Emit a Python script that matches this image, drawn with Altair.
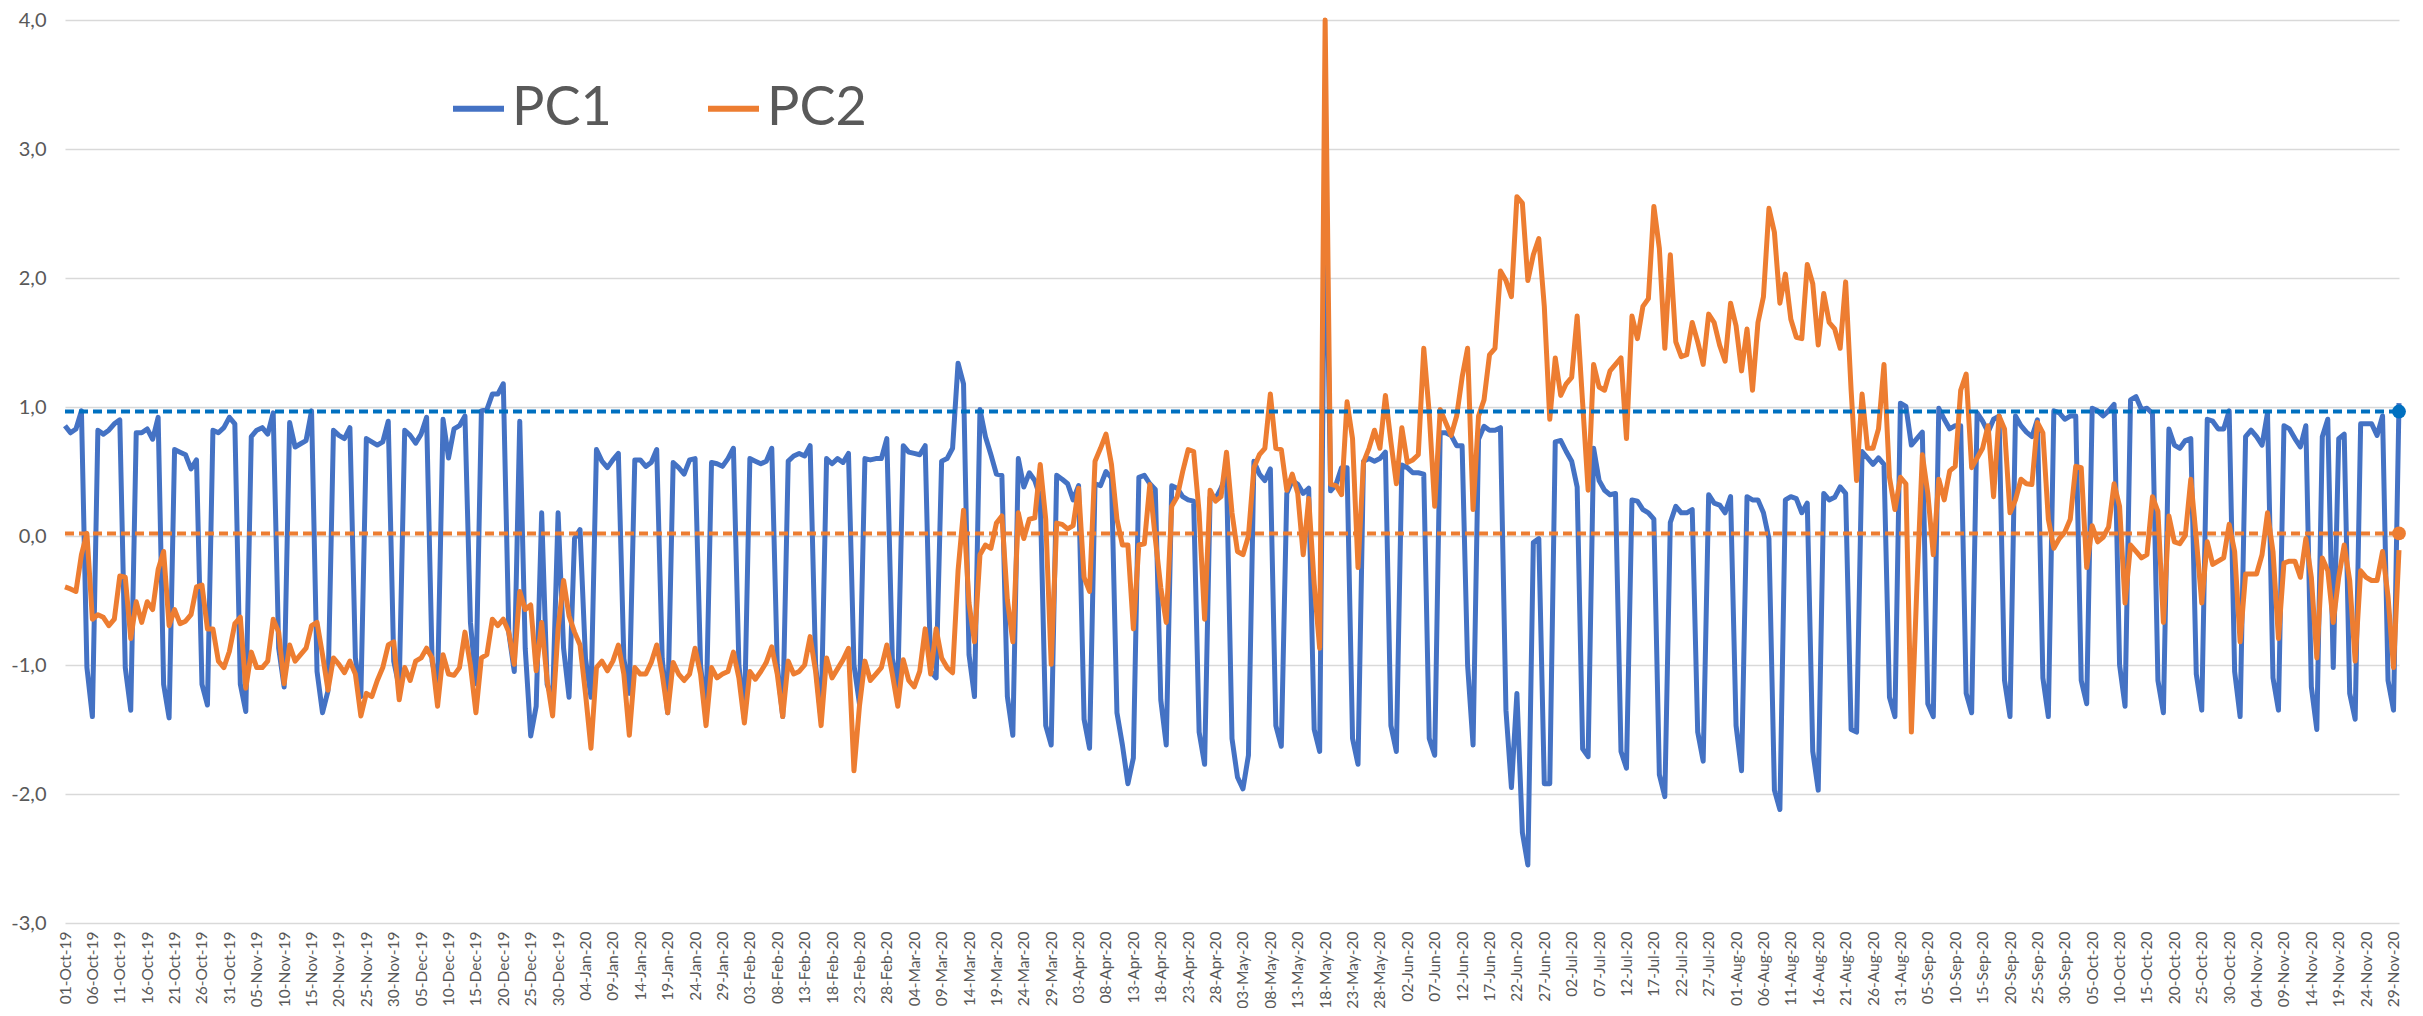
import json
import pandas as pd
import altair as alt

START = "2019-10-01"

PC1 = [
    0.855, 0.80, 0.83, 0.97, -1.02, -1.40, 0.82, 0.79, 0.82, 0.87,
    0.90, -1.02, -1.35, 0.80, 0.80, 0.83, 0.75, 0.92, -1.15, -1.41,
    0.67, 0.65, 0.63, 0.52, 0.59, -1.15, -1.31, 0.82, 0.80, 0.84,
    0.92, 0.87, -1.15, -1.36, 0.77, 0.82, 0.84, 0.79, 0.955, -0.87,
    -1.17, 0.88, 0.69, 0.715, 0.74, 0.97, -1.05, -1.37, -1.20, 0.82,
    0.78, 0.755, 0.84, -0.945, -1.245, 0.755, 0.73, 0.705, 0.73, 0.89,
    -0.97, -1.17, 0.82, 0.78, 0.72, 0.79, 0.92, -0.97, -1.17, 0.905,
    0.605, 0.83, 0.855, 0.93, -0.67, -1.145, 0.97, 0.98, 1.10, 1.10,
    1.18, -0.75, -1.05, 0.89, -0.87, -1.55, -1.32, 0.18, -1.15, -1.27,
    0.18, -0.87, -1.25, -0.02, 0.05, -0.95, -1.25, 0.67, 0.58, 0.53,
    0.59, 0.64, -0.95, -1.22, 0.59, 0.59, 0.54, 0.57, 0.67, -0.95,
    -1.37, 0.57, 0.53, 0.48, 0.59, 0.60, -1.0, -1.4, 0.57, 0.56,
    0.54, 0.60, 0.68, -1.0, -1.42, 0.60, 0.58, 0.56, 0.58, 0.68,
    -1.0, -1.40, 0.58, 0.62, 0.64, 0.62, 0.70, -1.0, -1.42, 0.60,
    0.56, 0.60, 0.57, 0.64, -1.0, -1.30, 0.60, 0.59, 0.60, 0.60,
    0.755, -0.95, -1.17, 0.70, 0.65, 0.64, 0.63, 0.70, -1.05, -1.10,
    0.58, 0.60, 0.68, 1.34, 1.18, -0.92, -1.245, 0.98, 0.77, 0.63,
    0.48, 0.47, -1.245, -1.545, 0.60, 0.38, 0.49, 0.43, 0.30, -1.47,
    -1.62, 0.47, 0.44, 0.405, 0.28, 0.39, -1.42, -1.645, 0.405, 0.39,
    0.50, 0.45, -1.37, -1.62, -1.92, -1.72, 0.455, 0.47, 0.405, 0.36,
    -1.27, -1.62, 0.39, 0.37, 0.305, 0.28, 0.27, -1.52, -1.77, 0.30,
    0.29, 0.37, 0.48, -1.57, -1.87, -1.96, -1.70, 0.58, 0.48, 0.43,
    0.52, -1.47, -1.63, 0.33, 0.43, 0.40, 0.33, 0.37, -1.50, -1.67,
    2.90, 0.35, 0.40, 0.53, 0.53, -1.57, -1.77, 0.58, 0.60, 0.58,
    0.60, 0.65, -1.47, -1.67, 0.55, 0.53, 0.49, 0.49, 0.48, -1.57,
    -1.70, 0.80, 0.80, 0.78, 0.70, 0.70, -1.0, -1.62, 0.75, 0.85,
    0.82, 0.82, 0.84, -1.35, -1.95, -1.22, -2.30, -2.55, -0.05, -0.02,
    -1.92, -1.92, 0.73, 0.74, 0.655, 0.58, 0.38, -1.65, -1.71, 0.68,
    0.43, 0.355, 0.32, 0.33, -1.67, -1.80, 0.28, 0.27, 0.205, 0.18,
    0.13, -1.85, -2.02, 0.105, 0.23, 0.18, 0.18, 0.205, -1.52, -1.745,
    0.32, 0.255, 0.24, 0.18, 0.305, -1.47, -1.82, 0.305, 0.28, 0.28,
    0.18, -0.02, -1.97, -2.12, 0.28, 0.305, 0.29, 0.18, 0.255, -1.67,
    -1.97, 0.33, 0.28, 0.30, 0.38, 0.33, -1.50, -1.52, 0.655, 0.605,
    0.555, 0.605, 0.555, -1.25, -1.40, 1.03, 1.005, 0.705, 0.755, 0.805,
    -1.30, -1.40, 0.99, 0.905, 0.83, 0.855, 0.855, -1.22, -1.37, 0.955,
    0.89, 0.805, 0.905, 0.93, -1.12, -1.40, 0.93, 0.855, 0.805, 0.77,
    0.90, -1.10, -1.40, 0.97, 0.955, 0.905, 0.93, 0.93, -1.12, -1.30,
    0.99, 0.97, 0.93, 0.97, 1.02, -1.00, -1.32, 1.055, 1.08, 0.98,
    0.99, 0.95, -1.12, -1.37, 0.83, 0.705, 0.68, 0.74, 0.755, -1.07,
    -1.35, 0.905, 0.89, 0.83, 0.83, 0.97, -1.05, -1.40, 0.77, 0.82,
    0.77, 0.705, 0.955, -1.10, -1.35, 0.855, 0.83, 0.755, 0.69, 0.855,
    -1.17, -1.50, 0.77, 0.905, -1.02, 0.755, 0.79, -1.22, -1.42, 0.87,
    0.87, 0.87, 0.78, 0.93, -1.12, -1.35, 1.03,
]

PC2 = [
    -0.395, -0.41, -0.43, -0.145, 0.02, -0.645, -0.61, -0.63, -0.695, -0.645,
    -0.31, -0.32, -0.795, -0.51, -0.67, -0.51, -0.57, -0.26, -0.12, -0.695,
    -0.57, -0.68, -0.66, -0.61, -0.395, -0.38, -0.72, -0.72, -0.97, -1.02,
    -0.895, -0.68, -0.63, -1.18, -0.90, -1.02, -1.02, -0.97, -0.645, -0.745,
    -1.145, -0.845, -0.97, -0.92, -0.87, -0.695, -0.67, -0.92, -1.195, -0.945,
    -0.995, -1.06, -0.97, -1.07, -1.395, -1.22, -1.245, -1.12, -1.02, -0.845,
    -0.82, -1.27, -1.02, -1.12, -0.97, -0.945, -0.87, -0.945, -1.32, -0.92,
    -1.07, -1.08, -1.02, -0.745, -1.0, -1.37, -0.945, -0.92, -0.645, -0.695,
    -0.645, -0.745, -0.995, -0.43, -0.57, -0.535, -1.045, -0.67, -1.12, -1.395,
    -0.72, -0.345, -0.62, -0.745, -0.845, -1.22, -1.645, -1.02, -0.97, -1.045,
    -0.97, -0.845, -1.07, -1.545, -1.02, -1.07, -1.07, -0.98, -0.845, -1.07,
    -1.37, -0.98, -1.07, -1.12, -1.07, -0.87, -1.07, -1.47, -1.02, -1.10,
    -1.07, -1.05, -0.90, -1.10, -1.45, -1.05, -1.11, -1.05, -0.98, -0.86,
    -1.07, -1.40, -0.97, -1.07, -1.05, -1.0, -0.78, -1.05, -1.47, -0.945,
    -1.10, -1.03, -0.96, -0.87, -1.82, -1.32, -0.97, -1.12, -1.07, -1.02,
    -0.845, -1.07, -1.32, -0.96, -1.12, -1.17, -1.05, -0.72, -1.07, -0.72,
    -0.945, -1.02, -1.06, -0.27, 0.20, -0.52, -0.82, -0.145, -0.07, -0.095,
    0.10, 0.155, -0.495, -0.82, 0.18, -0.02, 0.13, 0.14, 0.555, 0.13,
    -0.995, 0.10, 0.09, 0.055, 0.08, 0.37, -0.32, -0.43, 0.58, 0.68,
    0.79, 0.555, 0.13, -0.07, -0.07, -0.72, -0.07, -0.06, 0.40, -0.02,
    -0.40, -0.67, 0.23, 0.305, 0.50, 0.67, 0.655, 0.18, -0.645, 0.355,
    0.27, 0.305, 0.65, 0.18, -0.12, -0.145, 0.0, 0.53, 0.63, 0.68,
    1.10, 0.68, 0.67, 0.355, 0.48, 0.33, -0.145, 0.29, -0.37, -0.87,
    4.0, 0.40, 0.39, 0.32, 1.04, 0.755, -0.245, 0.57, 0.68, 0.82,
    0.68, 1.09, 0.73, 0.405, 0.84, 0.57, 0.59, 0.63, 1.455, 0.95,
    0.23, 0.98, 0.88, 0.78, 0.93, 1.23, 1.455, 0.205, 0.93, 1.055,
    1.405, 1.455, 2.055, 1.98, 1.855, 2.63, 2.58, 1.98, 2.18, 2.305,
    1.78, 0.905, 1.38, 1.09, 1.18, 1.23, 1.705, 1.03, 0.355, 1.33,
    1.155, 1.13, 1.28, 1.33, 1.38, 0.755, 1.705, 1.53, 1.78, 1.84,
    2.555, 2.23, 1.455, 2.18, 1.505, 1.39, 1.405, 1.655, 1.505, 1.33,
    1.72, 1.655, 1.48, 1.355, 1.805, 1.63, 1.28, 1.605, 1.13, 1.655,
    1.855, 2.54, 2.355, 1.805, 2.03, 1.68, 1.54, 1.53, 2.105, 1.955,
    1.48, 1.88, 1.655, 1.605, 1.455, 1.97, 1.13, 0.43, 1.10, 0.68,
    0.68, 0.83, 1.33, 0.455, 0.205, 0.455, 0.405, -1.52, -0.40, 0.63,
    0.33, -0.145, 0.44, 0.28, 0.505, 0.54, 1.13, 1.255, 0.53, 0.605,
    0.68, 0.855, 0.305, 0.93, 0.83, 0.18, 0.28, 0.44, 0.405, 0.40,
    0.88, 0.80, 0.13, -0.095, -0.02, 0.03, 0.13, 0.54, 0.53, -0.245,
    0.08, -0.045, -0.01, 0.07, 0.405, 0.23, -0.52, -0.07, -0.12, -0.17,
    -0.145, 0.305, 0.19, -0.67, 0.155, -0.045, -0.06, 0.005, 0.44, -0.02,
    -0.52, -0.045, -0.22, -0.195, -0.17, 0.09, -0.12, -0.82, -0.295, -0.295,
    -0.295, -0.145, 0.18, -0.12, -0.795, -0.21, -0.195, -0.195, -0.32, -0.02,
    -0.32, -0.945, -0.17, -0.27, -0.67, -0.32, -0.07, -0.345, -0.97, -0.27,
    -0.32, -0.345, -0.345, -0.12, -0.47, -1.02, -0.11,
]

REF_PC1 = 0.965
REF_PC2 = 0.02

SERIES = ["PC1", "PC2"]
COLORS = ["#4472C4", "#ED7D31"]
REF_COLORS = ["#0070C0", "#ED7D31"]
Y_TICKS = [-3, -2, -1, 0, 1, 2, 3, 4]

N = len(PC1)
DATES = pd.date_range(START, periods=N, freq="D")
DAY = list(range(N))
TICK_DAYS = DAY[::5]
TICK_LABELS = [d.strftime("%d-%b-%y") for d in DATES[::5]]

FONT = "Lato"
GREY = "#595959"

df = pd.DataFrame({
    "day": DAY * 2,
    "value": PC1 + PC2,
    "series": ["PC1"] * N + ["PC2"] * N,
})

ref1 = pd.DataFrame({"day": [0, N - 1], "value": [REF_PC1, REF_PC1]})
ref2 = pd.DataFrame({"day": [0, N - 1], "value": [REF_PC2, REF_PC2]})
end1 = ref1.iloc[[-1]]
end2 = ref2.iloc[[-1]]

x_label_expr = json.dumps(TICK_LABELS) + "[round(datum.value / 5)]"
y_label_expr = "replace(replace(format(datum.value, '.1f'), '.', ','), '\u2212', '-')"

x_enc = alt.X(
    "day:Q",
    scale=alt.Scale(domain=[0, N - 1], nice=False, zero=False),
    axis=alt.Axis(
        values=TICK_DAYS, labelExpr=x_label_expr, labelAngle=270,
        labelAlign="right", labelBaseline="middle",
        labelFontSize=15.5, labelFont=FONT, labelColor=GREY, labelPadding=8,
        labelOverlap=False, labelBound=False, labelFlush=False,
        labelSeparation=0,
        domain=False, ticks=False, grid=False, title=None,
    ),
)
y_enc = alt.Y(
    "value:Q",
    scale=alt.Scale(domain=[-3, 4], nice=False, zero=False),
    axis=alt.Axis(
        values=Y_TICKS, labelExpr=y_label_expr, grid=True,
        gridColor="#D9D9D9", gridWidth=1.5, domain=False, ticks=False,
        labelFontSize=20, labelFont=FONT, labelColor=GREY, labelPadding=19,
        labelOverlap=False, title=None,
    ),
)

lines = alt.Chart(df).mark_line(strokeWidth=5, strokeJoin="round").encode(
    x=x_enc,
    y=y_enc,
    color=alt.Color(
        "series:N",
        scale=alt.Scale(domain=SERIES, range=COLORS),
        legend=alt.Legend(
            title=None, orient="none", legendX=385, legendY=60,
            direction="horizontal", symbolType="stroke", symbolSize=2601,
            symbolStrokeWidth=6, labelFontSize=54, labelFont=FONT,
            labelColor=GREY, labelOffset=5, columnPadding=84, padding=0,
            labelLimit=400,
        ),
    ),
)


def ref_layer(data, color):
    return alt.Chart(data).mark_line(
        color=color, strokeDash=[9, 5], strokeWidth=4
    ).encode(x=x_enc, y=y_enc)


def end_dot(data, color):
    return alt.Chart(data).mark_circle(color=color, size=190, opacity=1).encode(
        x=x_enc, y=y_enc
    )


chart = alt.layer(
    lines,
    ref_layer(ref1, REF_COLORS[0]),
    ref_layer(ref2, REF_COLORS[1]),
    end_dot(end1, REF_COLORS[0]),
    end_dot(end2, REF_COLORS[1]),
).properties(
    width=2334,
    height=903,
    autosize=alt.AutoSizeParams(type="none"),
    padding={"left": 57, "top": 12, "right": 10, "bottom": 85},
    background="white",
).configure_view(
    stroke=None
).configure_axis(
    labelOverlap=False
)

chart.save("out.html", embed_options={"renderer": "svg", "actions": False})
